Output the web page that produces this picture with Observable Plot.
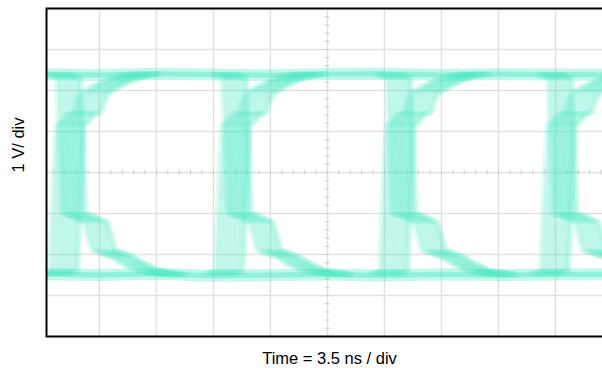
<!DOCTYPE html>
<html><head><meta charset="utf-8">
<script src="https://cdn.jsdelivr.net/npm/d3@7"></script>
<script src="https://cdn.jsdelivr.net/npm/@observablehq/plot@0.6"></script>
<style>
html,body{margin:0;padding:0;background:#fff;overflow:hidden;width:602px;height:368px;}
#chart{width:614px;}
#chart svg{display:block;max-width:none !important;width:614px !important;height:368px !important;font-family:"Liberation Sans",Arial,sans-serif;}
</style></head><body><div id="chart"></div>
<script>
// Labels
const xLabel = "Time = 3.5 ns / div";
const yLabel = "1 V/ div";

// Scope graticule (ns and V)
const divTicksT = [3.5, 7, 10.5, 14, 17.5, 21, 24.5, 28, 31.5];
const divTicksV = [-3, -2, -1, 0, 1, 2, 3];
const minorT = d3.range(0.7, 35, 0.7);
const minorV = d3.range(-3.8, 4, 0.2);

// Eye-diagram: earliest edge time of each crossing cluster (ns)
const clusterStarts = [0.45, 10.62, 20.72, 30.6];
// edge jitter of individual traces (ns, relative to cluster start)
const riseJitter = [0, 0.18, 0.36, 0.55, 0.72, 0.9, 1.08, 1.26, 1.45, 1.6, 1.72];
const fallJitter = [0.43, 0.6, 0.77, 0.95, 1.12, 1.3, 1.47, 1.65, 1.8, 1.9];

// Rising edge with reflection steps (ns after edge start, volts)
const riseT = [-0.61, 0, 0.18, 0.40, 0.65, 1.00, 1.45, 1.65, 1.95, 2.60, 3.40, 4.30, 5.00];
const riseV = [-2.46, -2.41, -0.68, 1.15, 1.22, 1.40, 1.47, 1.75, 1.95, 2.10, 2.25, 2.36, 2.40];
// Falling edge with reflection steps
const fallT = [-0.61, 0, 0.18, 0.31, 0.74, 1.66, 2.15, 3.25, 3.87, 4.91, 6.45];
const fallV = [2.39, 2.32, 0.54, -1.0, -1.05, -1.22, -1.90, -2.05, -2.20, -2.40, -2.49];

// Logic levels along the sweep
const levelT = [0, 3.5, 7, 10.5, 14, 17.5, 21, 24.5, 28, 31.5, 35];
const highV = [2.40, 2.38, 2.41, 2.39, 2.37, 2.40, 2.41, 2.38, 2.40, 2.39, 2.38];
const lowV = [-2.48, -2.50, -2.47, -2.52, -2.50, -2.49, -2.51, -2.48, -2.50, -2.49, -2.48];

const color = "#4fe8c6";

const traces = [];
clusterStarts.forEach((c, ci) => {
  riseJitter.forEach((j, ji) => riseT.forEach((t, i) => traces.push({id: `r${ci}-${ji}`, t: c + j + t, v: riseV[i]})));
  fallJitter.forEach((j, ji) => fallT.forEach((t, i) => traces.push({id: `f${ci}-${ji}`, t: c + j + t, v: fallV[i]})));
});
const levels = [];
levelT.forEach((t, i) => {
  levels.push({id: "high", t, v: highV[i]});
  levels.push({id: "low", t, v: lowV[i]});
});

const chart = Plot.plot({
  width: 614,
  height: 368,
  marginLeft: 46,
  marginRight: 2,
  marginTop: 8,
  marginBottom: 32,
  x: {domain: [0.25, 35], axis: null},
  y: {domain: [-4, 4], axis: null},
  style: {fontFamily: "'Liberation Sans', Arial, sans-serif", background: "#fff"},
  marks: [
    Plot.gridX(divTicksT, {stroke: "#e2e2e2", strokeOpacity: 1, strokeWidth: 1.5}),
    Plot.gridY(divTicksV, {stroke: "#e2e2e2", strokeOpacity: 1, strokeWidth: 1.5}),
    Plot.ruleX(minorT, {y1: -0.06, y2: 0.06, stroke: "#cfcfcf", strokeWidth: 1}),
    Plot.ruleY(minorV, {x1: 17.35, x2: 17.65, stroke: "#cfcfcf", strokeWidth: 1}),
    Plot.line(levels, {x: "t", y: "v", z: "id", stroke: color, strokeWidth: 12, strokeOpacity: 0.35, clip: true}),
    Plot.line(levels, {x: "t", y: "v", z: "id", stroke: color, strokeWidth: 5, strokeOpacity: 0.45, clip: true}),
    Plot.line(traces, {x: "t", y: "v", z: "id", stroke: color, strokeWidth: 6, strokeOpacity: 0.19, clip: true}),
    Plot.frame({stroke: "#000", strokeWidth: 2}),
    Plot.text([xLabel], {frameAnchor: "bottom", dy: 27, fontSize: 16.5, fill: "#000"}),
    Plot.text([yLabel], {frameAnchor: "left", dx: -28, rotate: -90, fontSize: 16.5, fill: "#000"})
  ]
});
document.getElementById("chart").appendChild(chart);
</script></body></html>
